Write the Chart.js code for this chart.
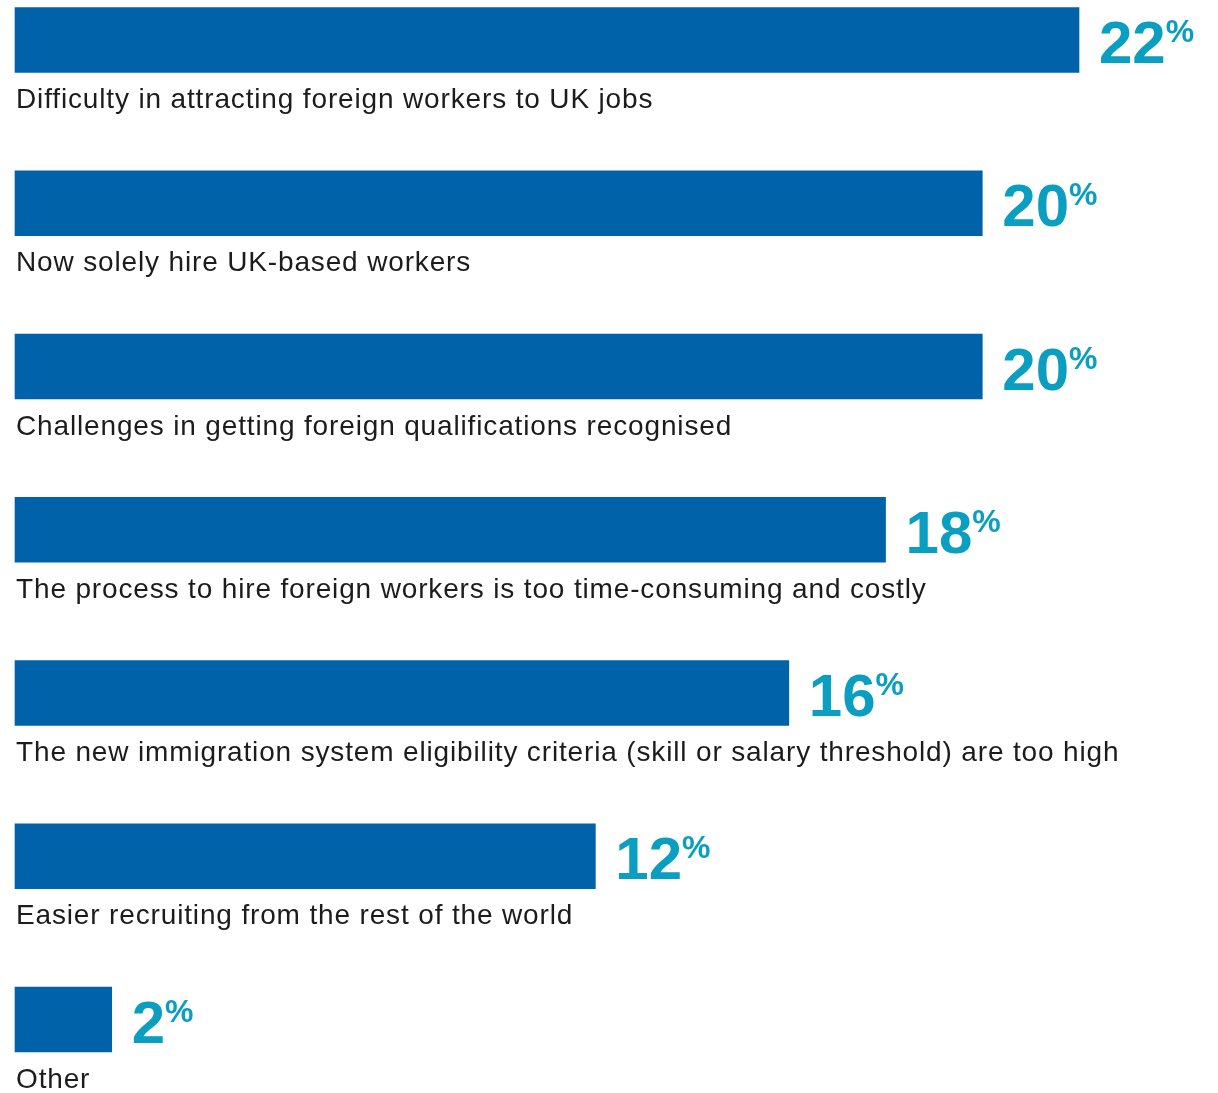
<!DOCTYPE html>
<html>
	<head>
		<title>Reasons - horizontal bars</title>
        <meta charset="UTF-8">
        <script src="https://cdn.jsdelivr.net/npm/chart.js@4"></script>
        <style>
            body { margin: 0; background: #fff; }
            #wrap { width: 1218px; height: 1093px; position: relative; }
        </style>
	</head>
	<body>
        <div id="wrap"><canvas id="myChart"></canvas></div>

		<script>
            var labels = [
                'Difficulty in attracting foreign workers to UK jobs',
                'Now solely hire UK-based workers',
                'Challenges in getting foreign qualifications recognised',
                'The process to hire foreign workers is too time-consuming and costly',
                'The new immigration system eligibility criteria (skill or salary threshold) are too high',
                'Easier recruiting from the rest of the world',
                'Other'
            ]
            var values = [22, 20, 20, 18, 16, 12, 2]

            // labels under each bar + big value labels at the bar ends
            var textPlugin = {
                id: 'textPlugin',
                afterDatasetsDraw: function(chart) {
                    let ctx = chart.ctx
                    let meta = chart.getDatasetMeta(0)
                    ctx.save()
                    for(let i=0; i<meta.data.length; i++) {
                        let bar = meta.data[i]
                        let y = bar.y
                        ctx.textAlign = 'left'
                        ctx.textBaseline = 'alphabetic'
                        ctx.fillStyle = '#1c1c1c'
                        ctx.font = '28px "Liberation Sans", Arial, sans-serif'
                        ctx.letterSpacing = '0.85px'
                        ctx.fillText(labels[i], 16, y + 68)
                        ctx.letterSpacing = '0px'

                        ctx.fillStyle = '#0a9fc0'
                        ctx.font = 'bold 60px "Liberation Sans", Arial, sans-serif'
                        let num = String(values[i])
                        let x = bar.x + 20
                        ctx.fillText(num, x, y + 23)
                        let w = ctx.measureText(num).width
                        ctx.font = 'bold 32px "Liberation Sans", Arial, sans-serif'
                        ctx.fillText('%', x + w, y + 2)
                    }
                    ctx.restore()
                }
            }

			var ctx = document.getElementById('myChart').getContext('2d')
            var chart = new Chart(ctx, {
                type: 'bar',
                data: {
                    labels: labels,
                    datasets: [{
                        data: values,
                        backgroundColor: '#0062a8',
                        barThickness: 65,
                        clip: false
                    }]
                },
                options: {
                    indexAxis: 'y',
                    responsive: true,
                    maintainAspectRatio: false,
                    animation: false,
                    layout: {
                        padding: { left: 15, right: 139, top: 40, bottom: 73.5 }
                    },
                    plugins: {
                        legend: { display: false },
                        tooltip: { enabled: false }
                    },
                    scales: {
                        x: { display: false, min: 0, max: 22 },
                        y: { display: false, offset: false }
                    }
                },
                plugins: [textPlugin]
            })
		</script>
	</body>
</html>
